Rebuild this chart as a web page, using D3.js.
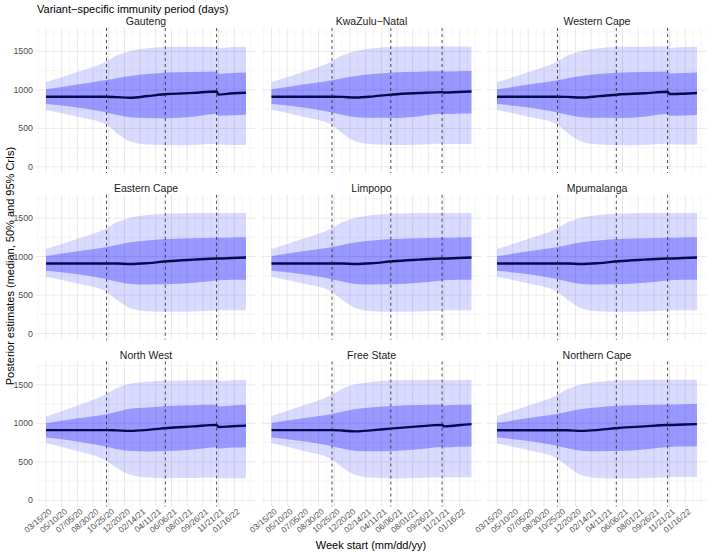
<!DOCTYPE html>
<html><head><meta charset="utf-8">
<script src="https://cdn.jsdelivr.net/npm/d3@7"></script>
<style>body{margin:0;background:#fff}svg{display:block;font-family:"Liberation Sans",Arial,sans-serif}</style>
</head><body><svg id="c" width="707" height="553"></svg>
<script>
const provinces = ["Gauteng","KwaZulu−Natal","Western Cape","Eastern Cape","Limpopo","Mpumalanga","North West","Free State","Northern Cape"];
const dates = ["2020-03-15","2020-07-05","2020-10-18","2020-11-22","2021-01-10","2021-03-14","2021-05-23","2021-08-22","2021-11-14","2021-11-21","2022-01-09","2022-02-27"];
const tickLabels = ["03/15/20","05/10/20","07/05/20","08/30/20","10/25/20","12/20/20","02/14/21","04/11/21","06/06/21","08/01/21","09/26/21","11/21/21","01/16/22"];
const variantDates = ["2020-10-17","2021-05-15","2021-11-14"];
const yTicks = [0,500,1000,1500];

const median = [
 [910,910,910,905,897,920,945,960,978,938,955,962],
 [910,910,910,908,900,915,940,958,970,965,972,978],
 [910,910,910,908,900,918,940,955,975,945,950,958],
 [910,910,910,910,903,915,940,960,975,975,982,988],
 [910,910,910,910,903,915,940,960,975,975,982,988],
 [910,910,910,910,903,915,940,960,975,975,982,988],
 [912,912,912,908,902,915,940,960,980,952,962,971],
 [912,912,912,906,895,912,935,960,980,960,975,990],
 [910,910,910,910,902,915,940,960,978,978,985,990]
];
const lo50 = [
 [815,770,705,675,643,635,632,650,690,662,670,675],
 [815,770,705,675,645,636,635,655,688,685,690,692],
 [815,770,705,675,645,636,634,650,685,662,668,672],
 [815,770,705,675,645,638,640,660,690,692,698,700],
 [815,770,705,675,645,638,640,660,690,692,698,700],
 [815,770,705,675,645,638,640,660,690,692,698,700],
 [816,765,695,662,640,634,640,660,690,672,685,690],
 [815,768,702,672,642,636,640,662,692,685,695,700],
 [815,770,705,675,645,638,640,660,692,694,698,702]
];
const hi50 = [
 [1006,1070,1127,1150,1180,1205,1225,1232,1238,1208,1220,1225],
 [1006,1068,1125,1150,1180,1205,1225,1235,1240,1238,1242,1245],
 [1006,1068,1125,1150,1180,1205,1222,1230,1238,1212,1220,1225],
 [1006,1068,1125,1152,1185,1210,1228,1238,1245,1245,1248,1250],
 [1006,1068,1125,1152,1185,1210,1228,1238,1245,1245,1248,1250],
 [1006,1068,1125,1152,1185,1210,1228,1238,1245,1245,1248,1250],
 [1002,1065,1119,1150,1190,1205,1225,1235,1240,1220,1232,1240],
 [1004,1066,1122,1150,1185,1208,1226,1238,1244,1232,1240,1245],
 [1006,1068,1125,1152,1185,1210,1228,1238,1245,1245,1248,1250]
];
const lo95 = [
 [738,650,545,440,330,290,280,285,300,290,285,285],
 [740,650,540,440,330,292,282,288,300,298,296,295],
 [738,650,545,440,330,290,280,285,300,292,288,287],
 [738,650,540,440,330,290,282,288,300,302,303,303],
 [738,650,540,440,330,290,282,288,300,302,303,303],
 [738,650,540,440,330,290,282,288,300,302,303,303],
 [743,640,510,420,331,295,288,290,295,288,288,288],
 [740,645,530,430,330,292,285,290,300,298,300,301],
 [738,650,540,440,330,290,282,288,300,302,303,303]
];
const hi95 = [
 [1097,1230,1370,1445,1505,1540,1558,1560,1560,1540,1555,1558],
 [1097,1230,1370,1445,1505,1540,1558,1562,1564,1562,1563,1564],
 [1097,1230,1370,1445,1505,1540,1558,1560,1562,1542,1555,1558],
 [1097,1230,1370,1445,1505,1540,1560,1565,1567,1567,1567,1567],
 [1097,1230,1370,1445,1505,1540,1560,1565,1567,1567,1567,1567],
 [1097,1230,1370,1445,1505,1540,1560,1565,1567,1567,1567,1567],
 [1088,1230,1385,1455,1513,1540,1555,1560,1565,1550,1560,1565],
 [1095,1230,1375,1450,1508,1540,1558,1562,1566,1560,1564,1566],
 [1097,1230,1370,1445,1505,1540,1560,1565,1567,1567,1567,1567]
];

const parse = d3.utcParse("%Y-%m-%d");
const parseTick = d3.utcParse("%m/%d/%y");
const svg = d3.select("#c");
const W = 220, H = 145;
const lefts = [36, 261.5, 487];
const tops = [28, 194.75, 361.5];
const d0 = parse(dates[0]), d1 = parse(dates[dates.length-1]);
const padMs = (d1 - d0) * 0.05;
const majorTicks = tickLabels.map(parseTick);
const stepMs = 28*86400000;
const minorTicks = [];
minorTicks.push(new Date(+majorTicks[0] - stepMs));
majorTicks.forEach(t => minorTicks.push(new Date(+t + stepMs)));
minorTicks.push(new Date(+majorTicks[majorTicks.length-1] + 2*stepMs));
const yMinor = [250,750,1250,1750];

svg.append("text").attr("x",37).attr("y",13).attr("font-size",11).attr("fill","#000").text("Variant−specific immunity period (days)");
svg.append("text").attr("transform","translate(14,266) rotate(-90)").attr("text-anchor","middle").attr("font-size",11).attr("fill","#000").text("Posterior estimates (median, 50% and 95% CrIs)");
svg.append("text").attr("x",371).attr("y",549).attr("text-anchor","middle").attr("font-size",11).attr("fill","#000").text("Week start (mm/dd/yy)");

provinces.forEach((p, i) => {
  const col = i % 3, row = Math.floor(i / 3);
  const L = lefts[col], T = tops[row];
  const x = d3.scaleUtc().domain([new Date(+d0 - padMs), new Date(+d1 + padMs)]).range([L, L + W]);
  const y = d3.scaleLinear().domain([-80, 1803]).range([T + H, T]);
  const g = svg.append("g");
  g.selectAll(".ymin").data(yMinor).join("line").attr("x1",L).attr("x2",L+W).attr("y1",d=>y(d)).attr("y2",d=>y(d)).attr("stroke","#f0f0f0").attr("stroke-width",0.6);
  g.selectAll(".xmin").data(minorTicks.filter(t => x(t) >= L && x(t) <= L+W)).join("line").attr("y1",T).attr("y2",T+H).attr("x1",d=>x(d)).attr("x2",d=>x(d)).attr("stroke","#f0f0f0").attr("stroke-width",0.6);
  g.selectAll(".ymaj").data(yTicks).join("line").attr("x1",L).attr("x2",L+W).attr("y1",d=>y(d)).attr("y2",d=>y(d)).attr("stroke","#e6e6e6").attr("stroke-width",0.9);
  g.selectAll(".xmaj").data(majorTicks).join("line").attr("y1",T).attr("y2",T+H).attr("x1",d=>x(d)).attr("x2",d=>x(d)).attr("stroke","#e6e6e6").attr("stroke-width",0.9);
  const data = dates.map((d, k) => ({date: parse(d), m: median[i][k], l5: lo50[i][k], h5: hi50[i][k], l9: lo95[i][k], h9: hi95[i][k]}));
  const curve = d3.curveMonotoneX;
  g.append("path").datum(data).attr("d", d3.area().curve(curve).x(d=>x(d.date)).y0(d=>y(d.l9)).y1(d=>y(d.h9))).attr("fill","#0000ff").attr("fill-opacity",0.145);
  g.append("path").datum(data).attr("d", d3.area().curve(curve).x(d=>x(d.date)).y0(d=>y(d.l5)).y1(d=>y(d.h5))).attr("fill","#0000ff").attr("fill-opacity",0.3);
  g.append("path").datum(data).attr("d", d3.line().curve(curve).x(d=>x(d.date)).y(d=>y(d.m))).attr("fill","none").attr("stroke","#08084f").attr("stroke-width",2.4);
  g.selectAll(".vl").data(variantDates.map(parse)).join("line").attr("y1",T).attr("y2",T+H).attr("x1",d=>x(d)).attr("x2",d=>x(d)).attr("stroke","#222").attr("stroke-width",0.8).attr("stroke-dasharray","3,3");
  g.append("text").attr("x",L+W/2).attr("y",T-3).attr("text-anchor","middle").attr("font-size",10.5).attr("fill","#1a1a1a").text(p);
  if (col === 0) {
    g.selectAll(".yl").data(yTicks).join("text").attr("x",L-3).attr("y",d=>y(d)+3).attr("text-anchor","end").attr("font-size",8.8).attr("fill","#4d4d4d").text(d=>d);
  }
  if (row === 2) {
    g.selectAll(".xl").data(majorTicks).join("text").attr("text-anchor","end").attr("font-size",8.3).attr("fill","#4d4d4d")
      .attr("transform",d=>`translate(${x(d)+6},${T+H+6}) rotate(-40)`).text((d,k)=>tickLabels[k]);
  }
});
</script></body></html>
